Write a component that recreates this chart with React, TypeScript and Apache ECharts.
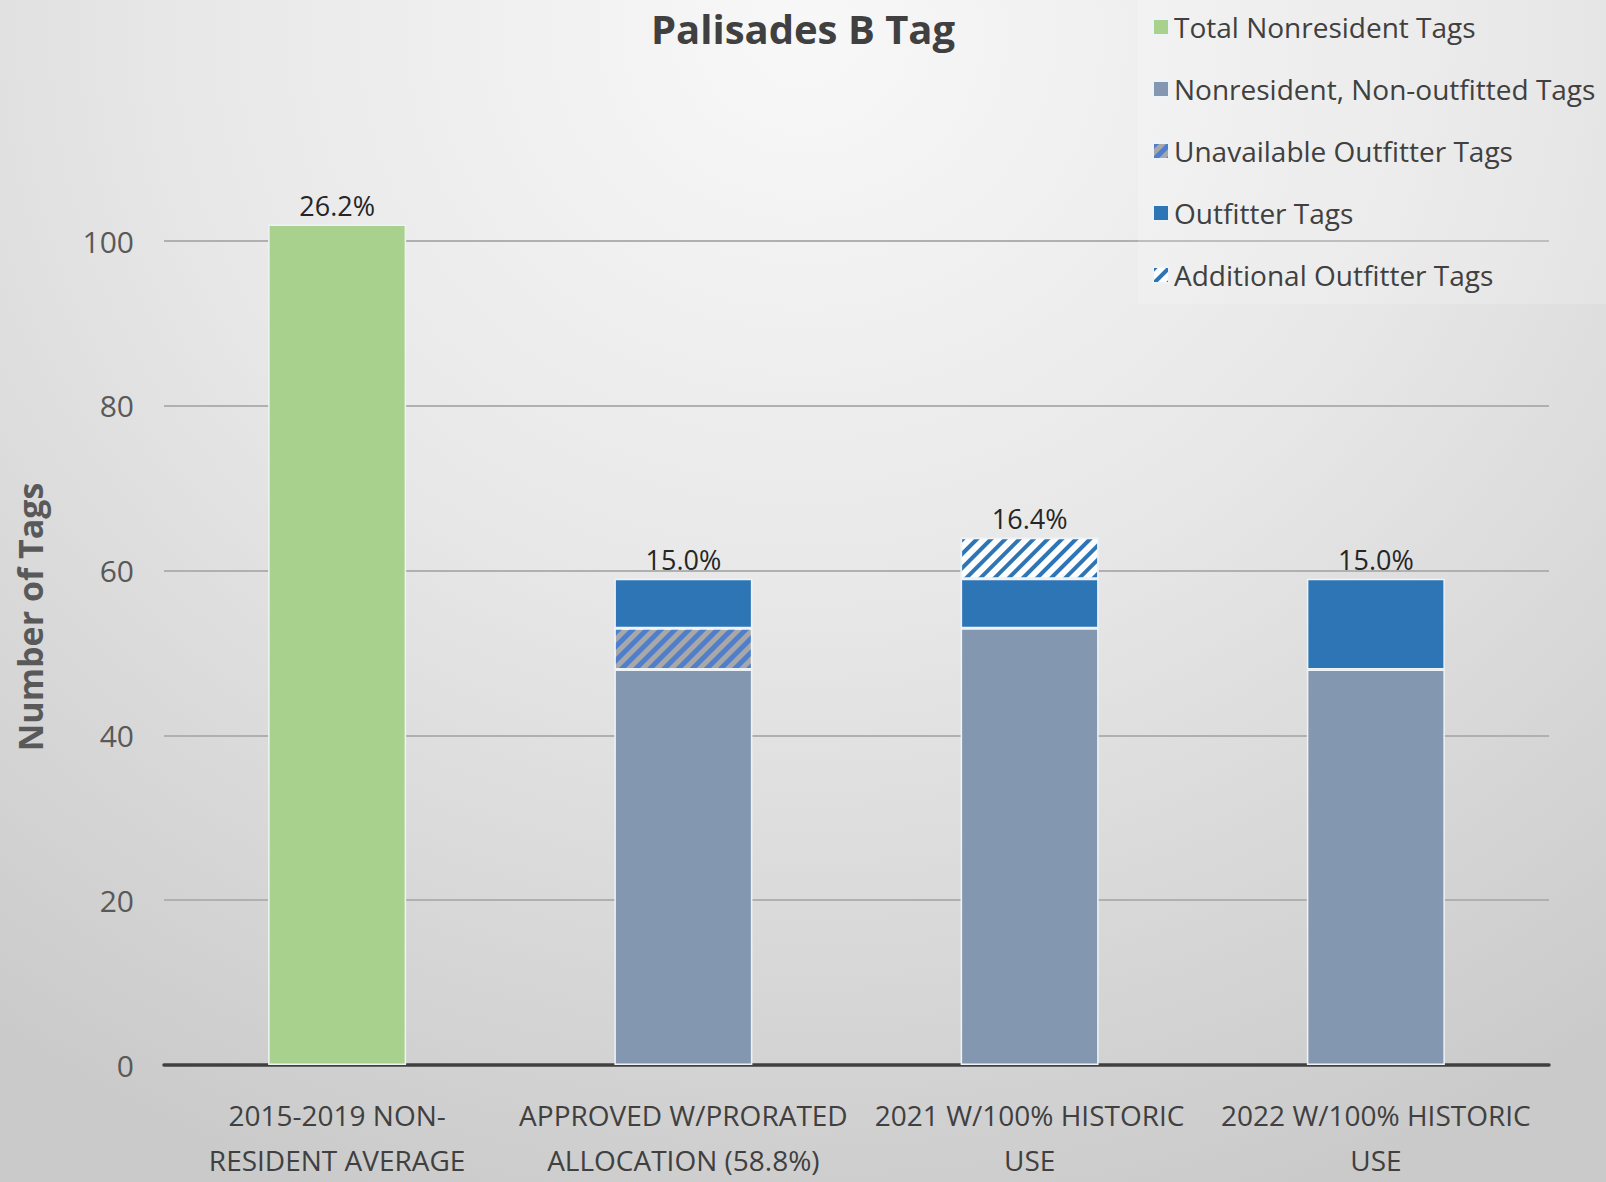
import React, { useEffect, useRef } from "react";
import * as echarts from "echarts";

const categories = [
  "2015-2019 NON-\nRESIDENT AVERAGE",
  "APPROVED W/PRORATED\nALLOCATION (58.8%)",
  "2021 W/100% HISTORIC\nUSE",
  "2022 W/100% HISTORIC\nUSE",
];
const totalNonresident = [102, null, null, null];
const nonOutfitted = [null, 48, 53, 48];
const unavailableOutfitter = [null, 5, null, null];
const outfitterTags = [null, 6, 6, 11];
const additionalOutfitter = [null, null, 5, null];
const topLabels = ["26.2%", "15.0%", "16.4%", "15.0%"];

const FONT = "'Open Sans', 'Noto Sans', sans-serif";

const seriesDefs = [
  { name: "Total Nonresident Tags", data: totalNonresident, color: "#a9d18e" },
  { name: "Nonresident, Non-outfitted Tags", data: nonOutfitted, color: "#8497b0" },
  {
    name: "Unavailable Outfitter Tags",
    data: unavailableOutfitter,
    color: "#a8a8a8",
    decal: { symbol: "rect", symbolSize: 1, color: "#4f7fcc", dashArrayX: [1, 0], dashArrayY: [5, 5], rotation: -Math.PI / 4 },
  },
  { name: "Outfitter Tags", data: outfitterTags, color: "#2e75b6" },
  {
    name: "Additional Outfitter Tags",
    data: additionalOutfitter,
    color: "#ffffff",
    decal: { symbol: "rect", symbolSize: 1, color: "#2e75b6", dashArrayX: [1, 0], dashArrayY: [4, 6], rotation: -Math.PI / 4 },
  },
];

function topSeriesIndex(cat: number): number {
  let idx = -1;
  seriesDefs.forEach((s, i) => {
    if (s.data[cat] !== null && s.data[cat] !== undefined) idx = i;
  });
  return idx;
}

export default function App() {
  const ref = useRef<HTMLDivElement>(null);
  useEffect(() => {
    if (!ref.current) return;
    const chart = echarts.init(ref.current, null, { renderer: "svg" });
    const series = seriesDefs.map((s, i) => ({
      name: s.name,
      type: "bar",
      stack: "tags",
      barWidth: 138,
      clip: false,
      itemStyle: {
        color: s.color,
        borderColor: "#eef3f8",
        borderWidth: 1.5,
        ...(s.decal ? { decal: s.decal } : {}),
      },
      data: s.data.map((v, j) => {
        if (v === null) return "-";
        if (topSeriesIndex(j) === i) {
          return {
            value: v,
            label: {
              show: true,
              position: "top",
              distance: 6,
              formatter: topLabels[j],
              fontFamily: FONT,
              fontSize: 27,
              color: "#262626",
            },
          };
        }
        return v;
      }),
    }));
    chart.setOption({
      animation: false,
      textStyle: { fontFamily: FONT },
      title: {
        text: "Palisades B Tag",
        left: "center",
        top: 8,
        padding: 0,
        textStyle: { fontFamily: FONT, fontSize: 40, fontWeight: "bold", color: "#404040" },
      },
      legend: {
        orient: "vertical",
        left: 1138,
        top: 0,
        padding: [10, 20, 12, 14],
        itemGap: 28,
        itemWidth: 16,
        itemHeight: 16,
        icon: "rect",
        backgroundColor: "rgba(255,255,255,0.18)",
        textStyle: { fontFamily: FONT, fontSize: 28, color: "#404040", lineHeight: 34 },
        data: seriesDefs.map((s) => s.name),
      },
      grid: { left: 164, right: 57, top: 241, bottom: 111, containLabel: false },
      xAxis: {
        type: "category",
        data: categories,
        axisLine: { show: true, lineStyle: { color: "#404040", width: 3.5 } },
        axisTick: { show: false },
        axisLabel: {
          interval: 0,
          margin: 27,
          fontFamily: FONT,
          fontSize: 28,
          lineHeight: 45,
          color: "#404040",
        },
      },
      yAxis: {
        type: "value",
        min: 0,
        max: 100,
        interval: 20,
        axisLine: { show: false },
        axisTick: { show: false },
        axisLabel: { margin: 30, fontFamily: FONT, fontSize: 30, color: "#595959" },
        splitLine: { lineStyle: { color: "#b0b0b0", width: 2 } },
      },
      graphic: [
        {
          type: "text",
          x: 30,
          y: 617,
          rotation: Math.PI / 2,
          style: {
            text: "Number of Tags",
            fontFamily: FONT,
            fontSize: 34,
            fontWeight: "bold",
            fill: "#595959",
            align: "center",
            verticalAlign: "middle",
          },
        },
      ],
      series,
    });
    return () => chart.dispose();
  }, []);
  return (
    <div
      ref={ref}
      style={{
        position: "absolute",
        left: 0,
        top: 0,
        width: 1606,
        height: 1182,
        background: "radial-gradient(ellipse 85% 105% at 50% 3%, #f8f8f8 0%, #e8e8e8 45%, #cacaca 100%)",
      }}
    />
  );
}
